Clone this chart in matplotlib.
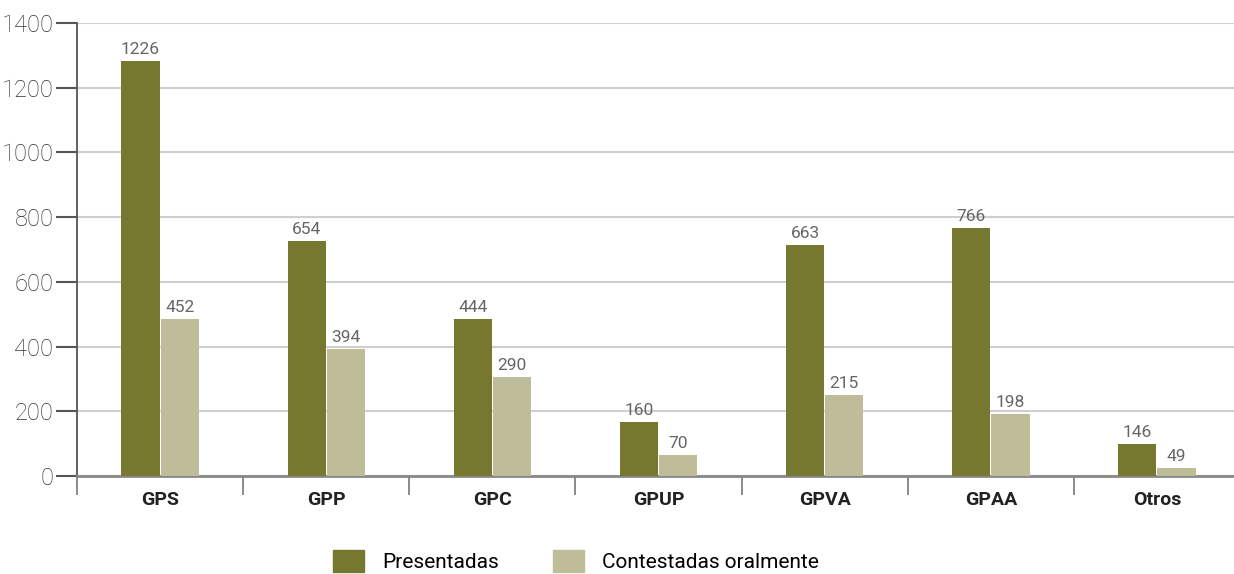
import matplotlib
matplotlib.use('Agg')
import matplotlib.pyplot as plt
from matplotlib.patches import Patch
import numpy as np

plt.rcParams['font.family'] = ['Roboto', 'DejaVu Sans']

# data (bar heights) and the printed labels
categories = ['GPS', 'GPP', 'GPC', 'GPUP', 'GPVA', 'GPAA', 'Otros']
presentadas = [1283, 726, 485, 166, 714, 767, 98]
contestadas = [485, 392, 305, 64, 250, 191, 24]
presentadas_lbl = ['1226', '654', '444', '160', '663', '766', '146']
contestadas_lbl = ['452', '394', '290', '70', '215', '198', '49']
yticks = [0, 200, 400, 600, 800, 1000, 1200, 1400]

c_pres = '#76782f'
c_cont = '#bfbd99'

fig = plt.figure(figsize=(12.34, 5.74), dpi=100)
# axes runs slightly past the right edge, like the original
ax = fig.add_axes([0.0624, 0.1707, 0.9425, 0.7893])

x = np.arange(len(categories))
w = 0.23
b1 = ax.bar(x - w / 2 - 0.003, presentadas, w, color=c_pres, zorder=3)
b2 = ax.bar(x + w / 2 + 0.003, contestadas, w, color=c_cont, zorder=3)

for bars, lbls in [(b1, presentadas_lbl), (b2, contestadas_lbl)]:
    for rect, lbl in zip(bars, lbls):
        ax.annotate(lbl, (rect.get_x() + rect.get_width() / 2, rect.get_height()),
                    xytext=(0, 3), textcoords='offset points',
                    ha='center', va='bottom', fontsize=12.5, color='#666666',
                    zorder=4)

ax.set_xlim(-0.5, len(categories) - 0.5)
ax.set_ylim(0, 1400)
ax.set_yticks(yticks)
ax.set_yticklabels([str(t) for t in yticks], fontsize=17, color='#333333',
                   fontweight='light')
ax.yaxis.grid(True, color='#cfcfcf', linewidth=1.5, zorder=0)
ax.set_axisbelow(True)

# category separators as major ticks, labels on minor ticks
ax.set_xticks(np.arange(len(categories) + 1) - 0.5)
ax.set_xticklabels([])
ax.set_xticks(x, minor=True)
ax.set_xticklabels(categories, minor=True, fontsize=14, fontweight='bold',
                   color='#222222')
ax.tick_params(axis='x', which='major', length=14, width=1.2, color='#777777',
               direction='out')
ax.tick_params(axis='x', which='minor', length=0, pad=11)
ax.tick_params(axis='y', length=15, width=1.5, color='#555555', pad=2)

for s in ['top', 'right']:
    ax.spines[s].set_visible(False)
ax.spines['left'].set_color('#555555')
ax.spines['left'].set_linewidth(1.3)
ax.spines['bottom'].set_color('#888888')
ax.spines['bottom'].set_linewidth(2)

handles = [Patch(color=c_pres, label='Presentadas'),
           Patch(color=c_cont, label='Contestadas oralmente')]
fig.legend(handles=handles, loc='lower center', bbox_to_anchor=(0.467, -0.03),
           ncol=2, frameon=False, fontsize=15, handlelength=1.45,
           handleheight=1.3, handletextpad=0.9, columnspacing=2.6)

fig.savefig('out.png', dpi=100)
